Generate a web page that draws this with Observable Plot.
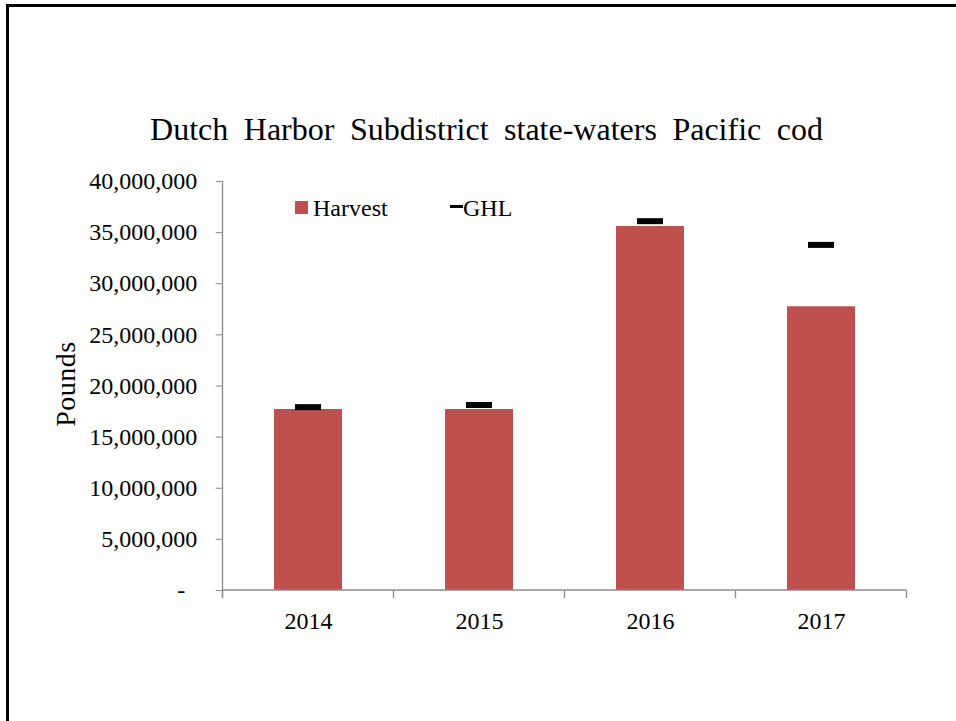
<!DOCTYPE html>
<html>
<head>
<meta charset="utf-8">
<script src="https://cdn.jsdelivr.net/npm/d3@7"></script>
<script src="https://cdn.jsdelivr.net/npm/@observablehq/plot@0.6"></script>
<style>
  html, body { margin: 0; padding: 0; background: #fff; overflow: hidden; }
  #wrap { position: relative; width: 956px; height: 721px; overflow: hidden; font-family: "Liberation Serif", "Times New Roman", serif; color: #000; }
  #frame { position: absolute; left: 6px; top: 4px; width: 2000px; height: 2000px; border: 3px solid #000; box-sizing: border-box; }
  #chart { position: absolute; left: 0; top: 0; }
  .abs { position: absolute; white-space: nowrap; line-height: 1; }
  #title { left: 6px; width: 961px; top: 113px; text-align: center; font-size: 32px; word-spacing: 7.5px; }
  #ylabel { left: 66px; top: 384px; font-size: 28px; letter-spacing: 0.5px; transform: translate(-50%, -50%) rotate(-90deg); }
  .legtext { font-size: 24px; top: 196px; }
</style>
</head>
<body>
<div id="wrap">
  <div id="frame"></div>
  <div id="chart"></div>
  <div id="title" class="abs"></div>
  <div id="ylabel" class="abs"></div>
  <div id="legend"></div>
</div>
<script>
// ---- data ----
const years = ["2014", "2015", "2016", "2017"];
const harvest = [17700000, 17700000, 35600000, 27750000];
const ghl = [17930000, 18140000, 36120000, 33800000];
const yTicks = [0, 5000000, 10000000, 15000000, 20000000, 25000000, 30000000, 35000000, 40000000];
const titleText = "Dutch Harbor Subdistrict state-waters Pacific cod";
const yLabelText = "Pounds";
const seriesNames = ["Harvest", "GHL"];
const barColor = "#C0504D";

const rows = years.map((year, i) => ({year, harvest: harvest[i], ghl: ghl[i]}));
const fmt = d3.format(",");

// custom axis lines (gray) drawn through the scales
function axisLines(index, scales) {
  const x = scales.x, y = scales.y;
  const step = x.step(), bw = x.bandwidth();
  const y0 = y(0);
  const g = d3.create("svg:g").attr("stroke", "#8a8a8a").attr("stroke-width", 1.3).attr("fill", "none");
  const centers = years.map(d => x(d) + bw / 2);
  const bounds = centers.map(c => c - step / 2).concat([centers[centers.length - 1] + step / 2]);
  g.append("line").attr("x1", bounds[0]).attr("x2", bounds[bounds.length - 1]).attr("y1", y0).attr("y2", y0);
  g.append("line").attr("x1", bounds[0]).attr("x2", bounds[0]).attr("y1", y(yTicks[yTicks.length - 1])).attr("y2", y0 + 8);
  for (const b of bounds) {
    g.append("line").attr("x1", b).attr("x2", b).attr("y1", y0).attr("y2", y0 + 8);
  }
  return g.node();
}

const chart = Plot.plot({
  width: 956,
  height: 721,
  marginLeft: 222.7,
  marginRight: 48.7,
  marginTop: 181,
  marginBottom: 131,
  style: {fontFamily: '"Liberation Serif", "Times New Roman", serif', fontSize: "24px", background: "transparent", color: "#000", overflow: "visible"},
  x: {domain: years, paddingInner: 0.6, paddingOuter: 0.3, label: null},
  y: {domain: [0, 40000000], label: null},
  marks: [
    Plot.barY(rows, {x: "year", y: "harvest", fill: barColor}),
    Plot.tickY(rows, {x: "year", y: "ghl", stroke: "#000", strokeWidth: 6, inset: 21}),
    Plot.axisY({ticks: yTicks, tickSize: 7, tickPadding: 19, stroke: "#8a8a8a", fill: "#000",
      tickFormat: d => d === 0 ? "-\u00a0\u00a0" : fmt(d), label: null}),
    Plot.axisX({tickSize: 0, tickPadding: 21, fill: "#000", label: null}),
    axisLines
  ]
});
document.getElementById("chart").appendChild(chart);

document.getElementById("title").textContent = titleText;
document.getElementById("ylabel").textContent = yLabelText;

// legend
const legend = document.getElementById("legend");
const sw = document.createElement("div");
sw.style.cssText = `position:absolute;left:295px;top:201px;width:13px;height:13px;background:${barColor};`;
legend.appendChild(sw);
const t1 = document.createElement("div");
t1.className = "abs legtext"; t1.style.left = "313px"; t1.textContent = seriesNames[0];
legend.appendChild(t1);
const ln = document.createElement("div");
ln.style.cssText = "position:absolute;left:450px;top:205px;width:13px;height:3px;background:#000;";
legend.appendChild(ln);
const t2 = document.createElement("div");
t2.className = "abs legtext"; t2.style.left = "463px"; t2.textContent = seriesNames[1];
legend.appendChild(t2);
</script>
</body>
</html>
